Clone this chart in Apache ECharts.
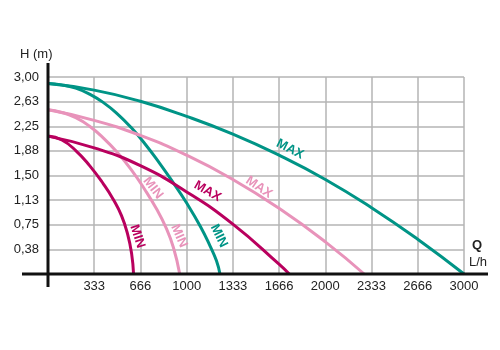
<!DOCTYPE html>
<html><head><meta charset="utf-8">
<script src="https://cdn.jsdelivr.net/npm/echarts@6/dist/echarts.min.js"></script>
<style>html,body{margin:0;padding:0;background:#fff}#c{width:500px;height:350px}</style>
</head><body><div id="c"></div>
<script>
// Tick labels
const qTickLabels = ['', '333', '666', '1000', '1333', '1666', '2000', '2333', '2666', '3000'];
const hTickLabels = ['', '0,38', '0,75', '1,13', '1,50', '1,88', '2,25', '2,63', '3,00'];

// Curves (Q in L/h, H in m)
const tealMaxQ = [0, 333, 666, 1000, 1333, 1666, 2000, 2333, 2666, 3000];
const tealMaxH = [2.90, 2.80, 2.63, 2.40, 2.13, 1.81, 1.44, 1.01, 0.53, 0];
const tealMinQ = [0, 100, 200, 300, 400, 500, 600, 700, 800, 900, 1000, 1100, 1170, 1215, 1240];
const tealMinH = [2.90, 2.88, 2.83, 2.74, 2.61, 2.44, 2.23, 1.98, 1.70, 1.40, 1.08, 0.72, 0.42, 0.20, 0];
const pinkMaxQ = [0, 333, 666, 1000, 1333, 1666, 2000, 2280];
const pinkMaxH = [2.50, 2.34, 2.11, 1.81, 1.44, 1.00, 0.49, 0];
const pinkMinQ = [0, 100, 200, 300, 400, 500, 600, 700, 780, 850, 905, 950];
const pinkMinH = [2.50, 2.46, 2.38, 2.25, 2.07, 1.85, 1.59, 1.28, 1.00, 0.71, 0.40, 0];
const magentaMaxQ = [0, 333, 666, 1000, 1333, 1666, 1740];
const magentaMaxH = [2.10, 1.92, 1.65, 1.25, 0.76, 0.15, 0];
const magentaMinQ = [0, 100, 200, 300, 400, 470, 530, 575, 603, 617];
const magentaMinH = [2.10, 2.04, 1.88, 1.65, 1.37, 1.14, 0.89, 0.60, 0.31, 0];

// Curve labels: text, anchor Q, anchor H, angle (deg, clockwise), colour key
const curveLabelText = ['MAX', 'MAX', 'MAX', 'MIN', 'MIN', 'MIN', 'MIN'];
const curveLabelQ = [1745, 1522, 1150, 757, 945, 1233, 645];
const curveLabelH = [1.90, 1.32, 1.26, 1.31, 0.58, 0.58, 0.57];
const curveLabelAngle = [27, 34, 30, 52, 66, 64, 72];
const curveLabelColor = ['teal', 'pink', 'magenta', 'pink', 'pink', 'teal', 'magenta'];

const COLORS = { teal: '#009486', pink: '#e893ba', magenta: '#b9005e' };
const FONT = '"Liberation Sans", Arial, sans-serif';

const pair = (qs, hs) => qs.map((q, i) => [q, hs[i]]);
const line = (name, qs, hs, color) => ({
  name, type: 'line', data: pair(qs, hs), smooth: 0.5, showSymbol: false, symbol: 'none',
  lineStyle: { color, width: 3 }, itemStyle: { color }, z: 3
});

const chart = echarts.init(document.getElementById('c'), null, { renderer: 'canvas' });
chart.setOption({
  animation: false,
  grid: { left: 48, right: 36, top: 77, bottom: 76 },
  xAxis: {
    type: 'value', min: 0, max: 3000, interval: 3000 / 9,
    axisLine: { show: false }, axisTick: { show: false },
    splitLine: { show: true, lineStyle: { color: '#b4b4b4', width: 1.5 } },
    axisLabel: { formatter: v => qTickLabels[Math.round(v * 9 / 3000)] || '', color: '#222', fontSize: 13, fontFamily: FONT, margin: 6 }
  },
  yAxis: {
    type: 'value', min: 0, max: 3, interval: 0.375,
    axisLine: { show: false }, axisTick: { show: false },
    splitLine: { show: true, lineStyle: { color: '#b4b4b4', width: 1.5 } },
    axisLabel: { formatter: v => hTickLabels[Math.round(v / 0.375)] || '', color: '#222', fontSize: 13, fontFamily: FONT, margin: 9 }
  },
  series: [
    line('tealMax', tealMaxQ, tealMaxH, COLORS.teal),
    line('tealMin', tealMinQ, tealMinH, COLORS.teal),
    line('pinkMax', pinkMaxQ, pinkMaxH, COLORS.pink),
    line('pinkMin', pinkMinQ, pinkMinH, COLORS.pink),
    line('magentaMax', magentaMaxQ, magentaMaxH, COLORS.magenta),
    line('magentaMin', magentaMinQ, magentaMinH, COLORS.magenta)
  ]
});

const o = chart.convertToPixel({ gridIndex: 0 }, [0, 0]);
const tr = chart.convertToPixel({ gridIndex: 0 }, [3000, 3]);
const graphics = [
  { type: 'line', shape: { x1: o[0] - 26, y1: o[1], x2: tr[0] + 24, y2: o[1] }, style: { stroke: '#111', lineWidth: 3 }, z: 10 },
  { type: 'line', shape: { x1: o[0], y1: tr[1] - 14, x2: o[0], y2: o[1] + 13 }, style: { stroke: '#111', lineWidth: 3 }, z: 10 },
  { type: 'text', x: o[0] - 28, y: tr[1] - 23, style: { text: 'H (m)', fill: '#222', font: '13px ' + FONT, align: 'left', verticalAlign: 'middle', textAlign: 'left', textVerticalAlign: 'middle' }, z: 10 },
  { type: 'text', x: tr[0] + 13, y: o[1] - 29, style: { text: 'Q', fill: '#222', font: 'bold 13px ' + FONT, align: 'center', verticalAlign: 'middle', textAlign: 'center', textVerticalAlign: 'middle' }, z: 10 },
  { type: 'text', x: tr[0] + 14, y: o[1] - 12, style: { text: 'L/h', fill: '#222', font: '13px ' + FONT, align: 'center', verticalAlign: 'middle', textAlign: 'center', textVerticalAlign: 'middle' }, z: 10 }
];
curveLabelText.forEach((t, i) => {
  const p = chart.convertToPixel({ gridIndex: 0 }, [curveLabelQ[i], curveLabelH[i]]);
  graphics.push({
    type: 'text', x: p[0], y: p[1], rotation: -curveLabelAngle[i] * Math.PI / 180,
    style: { text: t, fill: COLORS[curveLabelColor[i]], font: 'bold 13px ' + FONT, align: 'center', verticalAlign: 'middle', textAlign: 'center', textVerticalAlign: 'middle' },
    z: 11
  });
});
chart.setOption({ graphic: graphics });
</script>
</body></html>
